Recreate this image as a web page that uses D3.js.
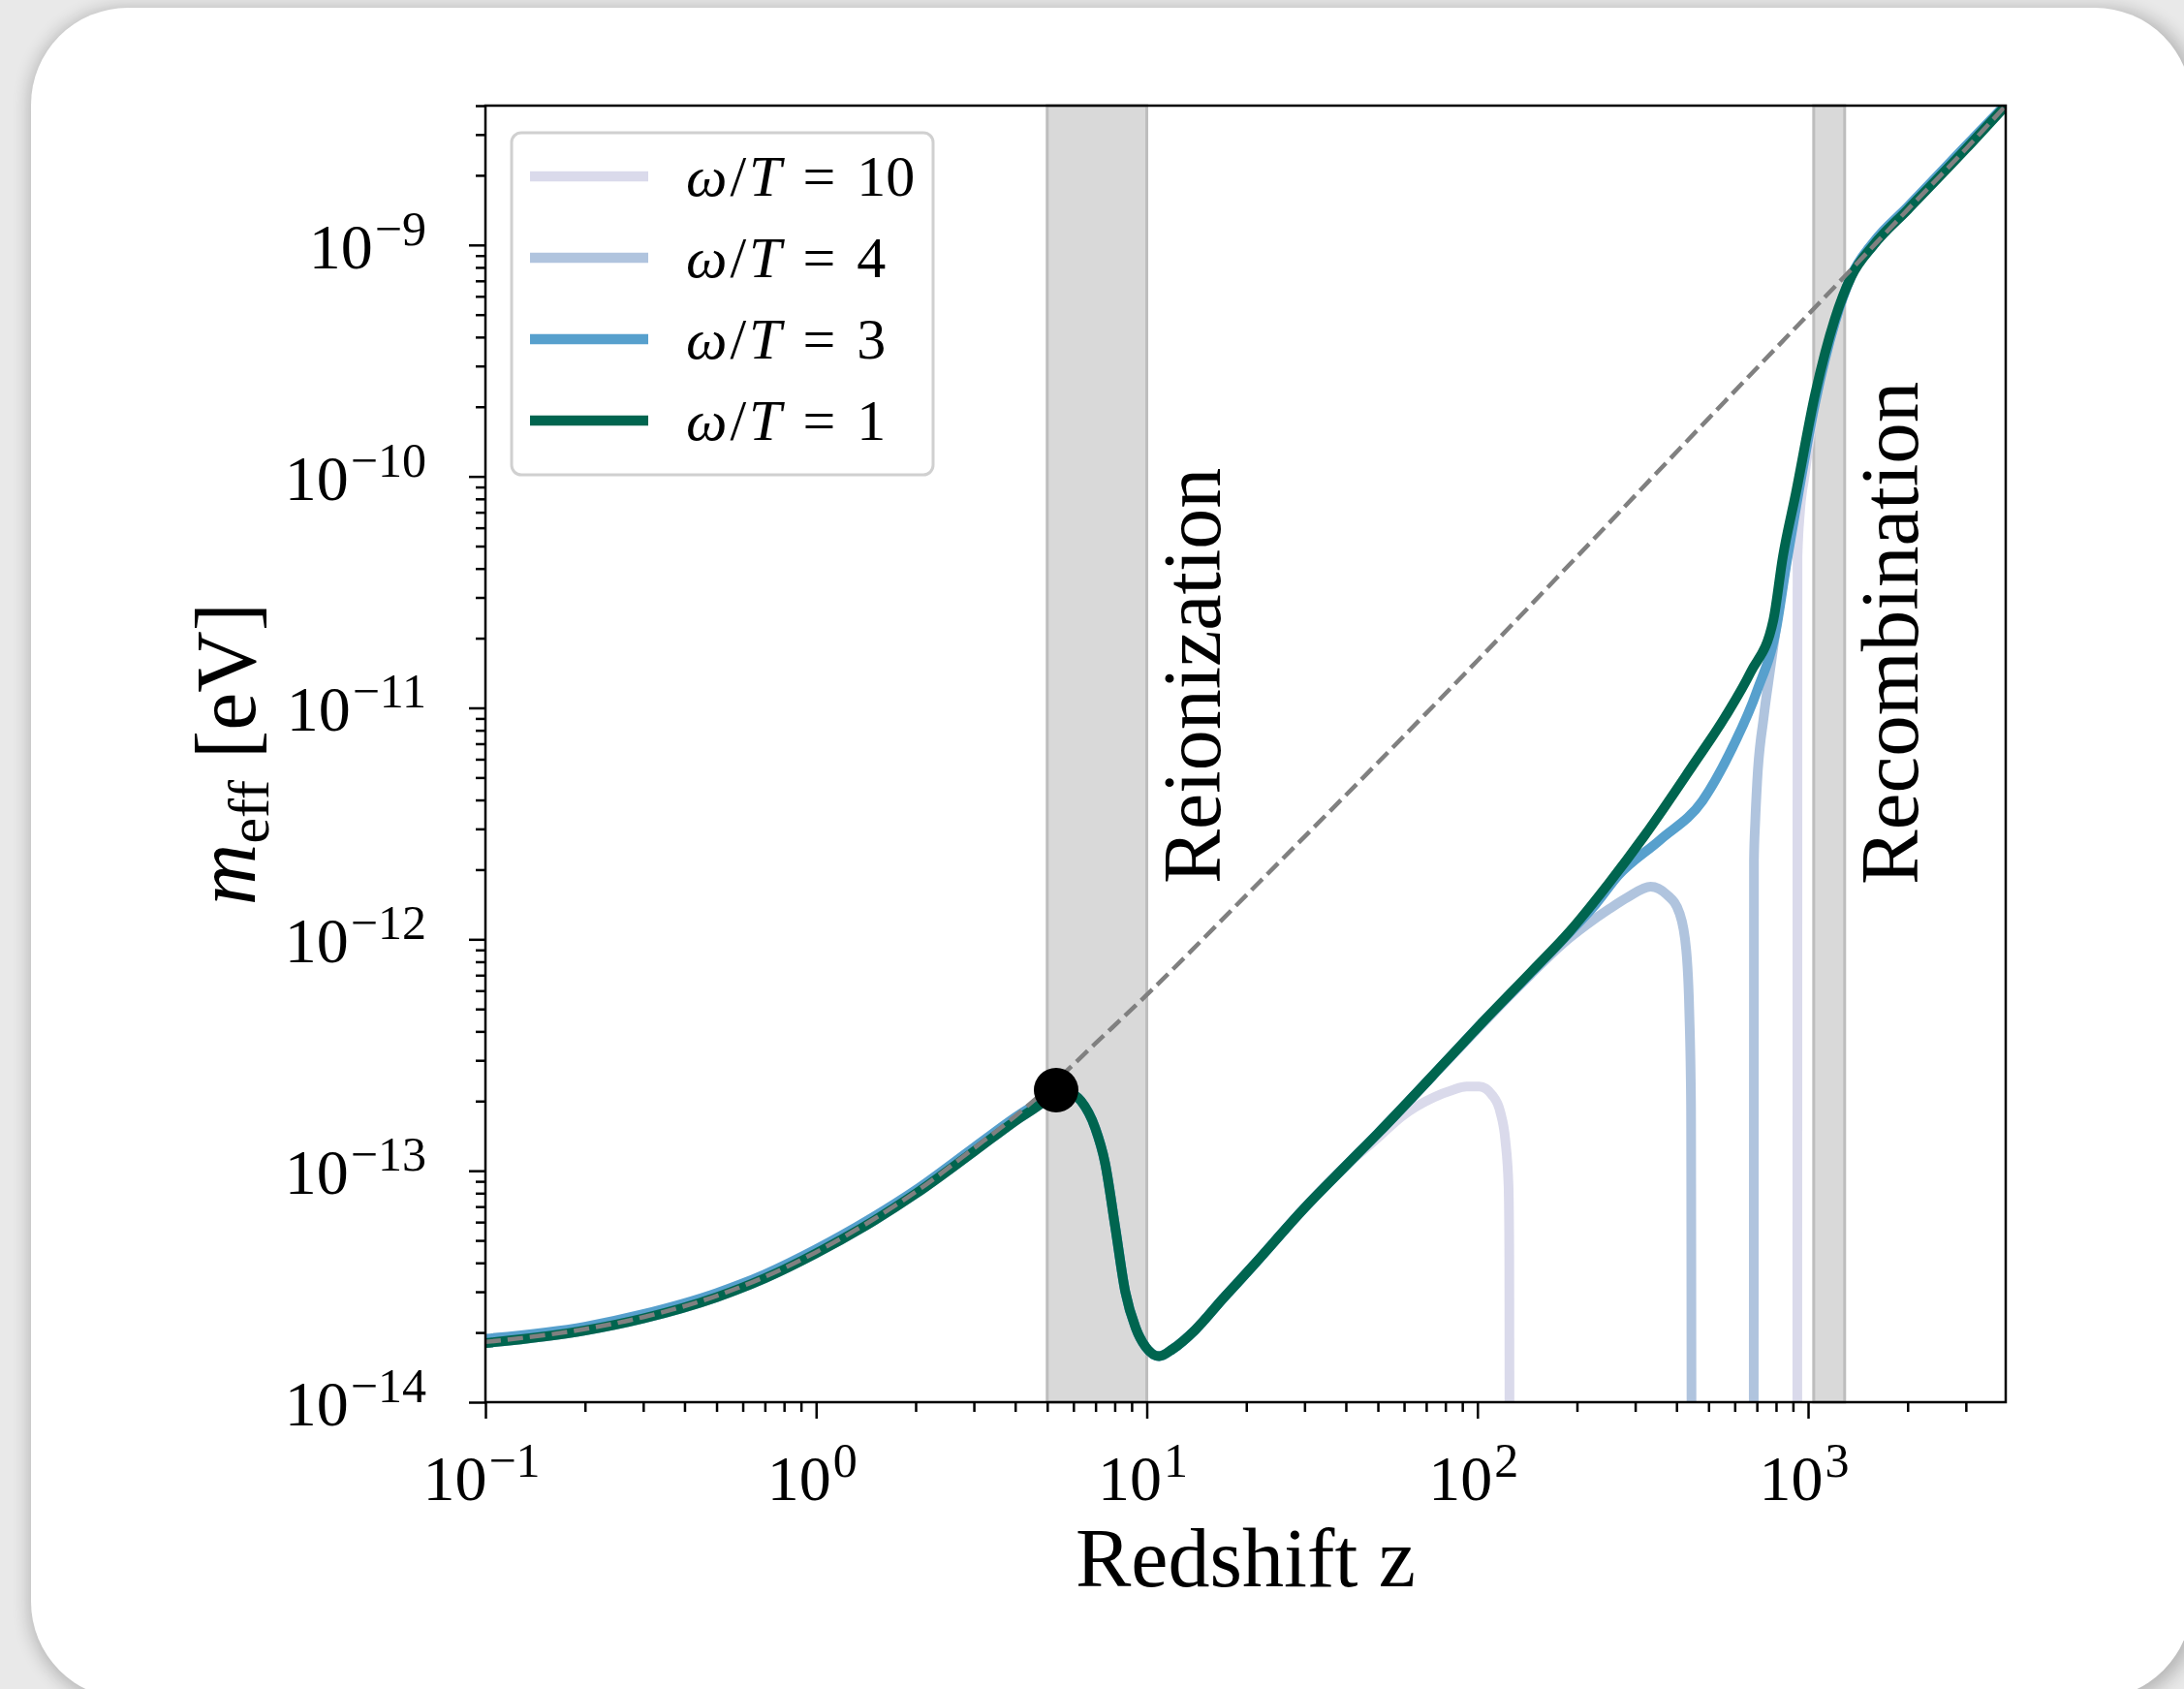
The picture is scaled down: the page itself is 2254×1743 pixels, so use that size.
<!DOCTYPE html>
<html>
<head>
<meta charset="utf-8">
<script src="https://cdn.jsdelivr.net/npm/d3@7"></script>
<style>
  body { margin: 0; background: #e9e9e9; }
  svg { display: block; }
  text { font-family: "Liberation Serif", "DejaVu Serif", serif; fill: #000; }
</style>
</head>
<body>
<div id="chart"></div>
<script>
// redshift grid shared by every omega/T run up to z = 40 (they overlap there)
const zEarly = [0.1, 0.2, 0.3, 0.5, 0.7, 1, 1.5, 2, 3, 4, 5, 5.32, 5.7, 6.33, 6.97, 7.48, 8.03, 8.61, 9.25, 9.93, 10.9, 12, 14, 17, 21, 30, 40];
const mEarly = [1.8e-14, 2.04e-14, 2.3e-14, 2.84e-14, 3.43e-14, 4.4e-14, 6.1e-14, 7.95e-14, 1.21e-13, 1.64e-13, 2.05e-13, 2.23e-13, 2.2e-13, 2.0e-13, 1.54e-13, 1.08e-13, 5.7e-14, 3.0e-14, 2.1e-14, 1.73e-14, 1.58e-14, 1.7e-14, 2.05e-14, 2.8e-14, 3.9e-14, 6.9e-14, 1.05e-13];
const mEarlyW3 = [1.88e-14, 2.12e-14, 2.4e-14, 2.96e-14, 3.57e-14, 4.58e-14, 6.35e-14, 8.25e-14, 1.26e-13, 1.7e-13, 2.1e-13, 2.25e-13, 2.2e-13, 2.0e-13, 1.54e-13, 1.08e-13, 5.7e-14, 3.0e-14, 2.1e-14, 1.73e-14, 1.58e-14, 1.7e-14, 2.05e-14, 2.8e-14, 3.9e-14, 6.9e-14, 1.05e-13];

// later history, one pair of arrays per omega/T
const zLateW1 = [50, 80, 100, 145, 190, 250, 320, 448, 560, 671, 785, 839, 919, 1052, 1204, 1348, 1578, 2000, 3000, 3960];
const mLateW1 = [1.45e-13, 2.95e-13, 4.15e-13, 7.2e-13, 1.08e-12, 1.75e-12, 2.8e-12, 5.64e-12, 9.1e-12, 1.43e-11, 2.39e-11, 4.5e-11, 8.5e-11, 2.29e-10, 4.77e-10, 7.26e-10, 1.0e-9, 1.42e-9, 2.6e-9, 4.0e-9];

const zLateW3 = [50, 80, 100, 145, 190, 228, 267, 357, 479, 587, 700, 803, 860, 919, 1052, 1204, 1348, 1578, 2000, 3000, 3960];
const mLateW3 = [1.45e-13, 2.95e-13, 4.15e-13, 7.15e-13, 1.07e-12, 1.42e-12, 1.89e-12, 2.69e-12, 3.96e-12, 6.62e-12, 1.18e-11, 2.24e-11, 4.2e-11, 7.3e-11, 2.1e-10, 4.6e-10, 7.3e-10, 1.03e-9, 1.46e-9, 2.68e-9, 4.05e-9];

const zLateW4 = [50, 80, 100, 145, 180, 213, 250, 285, 334, 374, 409, 428, 437.5, 442.6, 446, 684, 686, 692, 701.5, 734, 770, 803, 860, 919, 1052, 1204, 1348, 1578, 2000, 3000, 3960];
const mLateW4 = [1.45e-13, 2.93e-13, 4.1e-13, 7.05e-13, 9.5e-13, 1.15e-12, 1.35e-12, 1.52e-12, 1.69e-12, 1.56e-12, 1.29e-12, 9.0e-13, 4.74e-13, 1.93e-13, 1e-16, 1e-16, 2.2e-12, 3.2e-12, 4.8e-12, 9.1e-12, 1.5e-11, 2.3e-11, 4.3e-11, 7.6e-11, 2.15e-10, 4.6e-10, 7.25e-10, 1.0e-9, 1.43e-9, 2.62e-9, 4.0e-9];

const zLateW10 = [50, 59.1, 74, 84, 92.7, 101.4, 110.9, 117.3, 121.4, 124.2, 124.8, 125.5, 927, 929, 945, 975, 1010, 1052, 1100, 1204, 1348, 1578, 2000, 3000, 3960];
const mLateW10 = [1.39e-13, 1.72e-13, 2.08e-13, 2.23e-13, 2.31e-13, 2.31e-13, 2.12e-13, 1.79e-13, 1.36e-13, 8.6e-14, 4.67e-14, 1e-16, 1e-16, 4.5e-11, 7.0e-11, 1.0e-10, 1.45e-10, 2.15e-10, 2.9e-10, 4.7e-10, 7.25e-10, 1.0e-9, 1.42e-9, 2.6e-9, 4.0e-9];

// dashed reference line
const zDashed = [0.1, 0.2, 0.3, 0.5, 0.7, 1, 1.5, 2, 3, 4, 5.32, 7, 10, 20, 50, 100, 200, 500, 1000, 1300, 2000, 3000, 3960];
const mDashed = [1.82e-14, 2.07e-14, 2.33e-14, 2.88e-14, 3.48e-14, 4.45e-14, 6.2e-14, 8.1e-14, 1.25e-13, 1.72e-13, 2.45e-13, 3.55e-13, 5.75e-13, 1.55e-12, 5.8e-12, 1.6e-11, 4.5e-11, 1.78e-10, 5.0e-10, 7.4e-10, 1.42e-9, 2.6e-9, 4.0e-9];

// marked point
const dotZ = 5.32;
const dotM = 2.23e-13;

// shaded epochs
const bandNames = ["Reionization", "Recombination"];
const bandStart = [5, 1040];
const bandEnd = [10, 1290];

// legend
const ratios = [10, 4, 3, 1];
const colors = ["#dadaeb", "#b0c4de", "#57a0cd", "#00654f"];

const xMajor = [0.1, 1, 10, 100, 1000];
const yMajor = [1e-14, 1e-13, 1e-12, 1e-11, 1e-10, 1e-9];

const W = 2254, H = 1743;
const pLeft = 501, pRight = 2070, pTop = 109, pBottom = 1447;

const svg = d3.select("#chart").append("svg")
  .attr("width", W)
  .attr("height", H);

const defs = svg.append("defs");
defs.append("filter").attr("id", "shadow")
  .attr("x", -0.1).attr("y", -0.1).attr("width", 1.2).attr("height", 1.2)
  .append("feGaussianBlur").attr("stdDeviation", 9);
defs.append("clipPath").attr("id", "plotclip")
  .append("rect")
  .attr("x", pLeft).attr("y", pTop)
  .attr("width", pRight - pLeft).attr("height", pBottom - pTop);

// card
svg.append("rect")
  .attr("x", 30).attr("y", 8).attr("width", 2240).attr("height", 1750)
  .attr("rx", 100).attr("fill", "#000").attr("opacity", 0.22)
  .attr("filter", "url(#shadow)");
svg.append("rect")
  .attr("x", 32).attr("y", 8).attr("width", 2230).attr("height", 1745)
  .attr("rx", 100).attr("fill", "#fff");

const x = d3.scaleLog().domain([0.1, 3960]).range([pLeft, pRight]);
const y = d3.scaleLog().domain([1e-14, 4.0e-9]).range([pBottom, pTop]);

// bands
bandNames.forEach((name, i) => {
  svg.append("rect")
    .attr("x", x(bandStart[i]))
    .attr("y", pTop)
    .attr("width", x(bandEnd[i]) - x(bandStart[i]))
    .attr("height", pBottom - pTop)
    .attr("fill", "#d9d9d9")
    .attr("stroke", "#bdbdbd")
    .attr("stroke-width", 3);
});

// band labels
svg.append("text")
  .attr("transform", `translate(${x(bandEnd[0]) + 75},912) rotate(-90)`)
  .attr("font-size", 84)
  .text(bandNames[0]);
svg.append("text")
  .attr("transform", `translate(${x(bandEnd[1]) + 75},913) rotate(-90)`)
  .attr("font-size", 85)
  .text(bandNames[1]);

// series
const series = [
  { z: zEarly.concat(zLateW10), m: mEarly.concat(mLateW10) },
  { z: zEarly.concat(zLateW4), m: mEarly.concat(mLateW4) },
  { z: zEarly.concat(zLateW3), m: mEarlyW3.concat(mLateW3) },
  { z: zEarly.concat(zLateW1), m: mEarly.concat(mLateW1) }
];

const line = d3.line()
  .x(d => x(d[0]))
  .y(d => y(d[1]))
  .curve(d3.curveMonotoneX);

const plot = svg.append("g").attr("clip-path", "url(#plotclip)");

series.forEach((s, i) => {
  plot.append("path")
    .datum(s.z.map((z, j) => [z, s.m[j]]))
    .attr("d", line)
    .attr("fill", "none")
    .attr("stroke", colors[i])
    .attr("stroke-width", 10)
    .attr("stroke-linejoin", "round");
});

plot.append("path")
  .datum(zDashed.map((z, j) => [z, mDashed[j]]))
  .attr("d", line)
  .attr("fill", "none")
  .attr("stroke", "#808080")
  .attr("stroke-width", 4.5)
  .attr("stroke-dasharray", "16 7");

svg.append("circle")
  .attr("cx", x(dotZ))
  .attr("cy", y(dotM))
  .attr("r", 23)
  .attr("fill", "#000");

// ticks
const xMinor = x.ticks().filter(v => !xMajor.some(m => Math.abs(v / m - 1) < 1e-6));
const yMinor = y.ticks().filter(v => !yMajor.some(m => Math.abs(v / m - 1) < 1e-6));

function styleAxis(g) {
  g.select(".domain").remove();
  g.selectAll(".tick line").attr("stroke", "#000").attr("stroke-width", 2.5);
  g.selectAll(".tick text").remove();
}

svg.append("g").attr("transform", `translate(0,${pBottom})`)
  .call(d3.axisBottom(x).tickValues(xMajor).tickSize(17)).call(styleAxis);
svg.append("g").attr("transform", `translate(0,${pBottom})`)
  .call(d3.axisBottom(x).tickValues(xMinor).tickSize(10)).call(styleAxis);
svg.append("g").attr("transform", `translate(${pLeft},0)`)
  .call(d3.axisLeft(y).tickValues(yMajor).tickSize(17)).call(styleAxis);
svg.append("g").attr("transform", `translate(${pLeft},0)`)
  .call(d3.axisLeft(y).tickValues(yMinor).tickSize(10)).call(styleAxis);

function powLabel(sel, v) {
  const e = Math.round(Math.log10(v));
  sel.append("tspan").text("10");
  sel.append("tspan")
    .attr("font-size", 50)
    .attr("dx", 2)
    .attr("dy", -24)
    .text(String(e).replace("-", "\u2212"));
}

xMajor.forEach(v => {
  const t = svg.append("text")
    .attr("x", x(v) - 4)
    .attr("y", 1548)
    .attr("font-size", 66)
    .attr("text-anchor", "middle");
  powLabel(t, v);
});

yMajor.forEach(v => {
  const t = svg.append("text")
    .attr("x", 440)
    .attr("y", y(v) + 24)
    .attr("font-size", 66)
    .attr("text-anchor", "end");
  powLabel(t, v);
});

// frame
svg.append("rect")
  .attr("x", pLeft).attr("y", pTop)
  .attr("width", pRight - pLeft).attr("height", pBottom - pTop)
  .attr("fill", "none")
  .attr("stroke", "#000")
  .attr("stroke-width", 2.5);

// axis titles
svg.append("text")
  .attr("x", (pLeft + pRight) / 2)
  .attr("y", 1637)
  .attr("font-size", 86)
  .attr("text-anchor", "middle")
  .text("Redshift z");

const yl = svg.append("text")
  .attr("transform", `translate(263,${(pTop + pBottom) / 2}) rotate(-90)`)
  .attr("font-size", 88)
  .attr("text-anchor", "middle");
yl.append("tspan").attr("font-style", "italic").text("m");
yl.append("tspan").attr("font-size", 60).attr("dy", 14).text("eff");
yl.append("tspan").attr("dy", -14).text(" [eV]");

// legend
const lg = svg.append("g");
lg.append("rect")
  .attr("x", 528).attr("y", 137)
  .attr("width", 435).attr("height", 353)
  .attr("rx", 10)
  .attr("fill", "#fff").attr("fill-opacity", 0.8)
  .attr("stroke", "#d0d0d0").attr("stroke-width", 3);

ratios.forEach((r, i) => {
  const ly = 182 + i * 84;
  lg.append("line")
    .attr("x1", 547).attr("x2", 669)
    .attr("y1", ly).attr("y2", ly)
    .attr("stroke", colors[i])
    .attr("stroke-width", 10.5);
  const t = lg.append("text")
    .attr("x", 708).attr("y", ly + 20)
    .attr("font-size", 60);
  t.append("tspan").attr("font-style", "italic").text("\u03c9");
  t.append("tspan").attr("dx", 3).text("/");
  t.append("tspan").attr("dx", 3).attr("font-style", "italic").text("T");
  t.append("tspan").attr("dx", 22).text("=");
  t.append("tspan").attr("dx", 22).text(String(r));
});
</script>
</body>
</html>
